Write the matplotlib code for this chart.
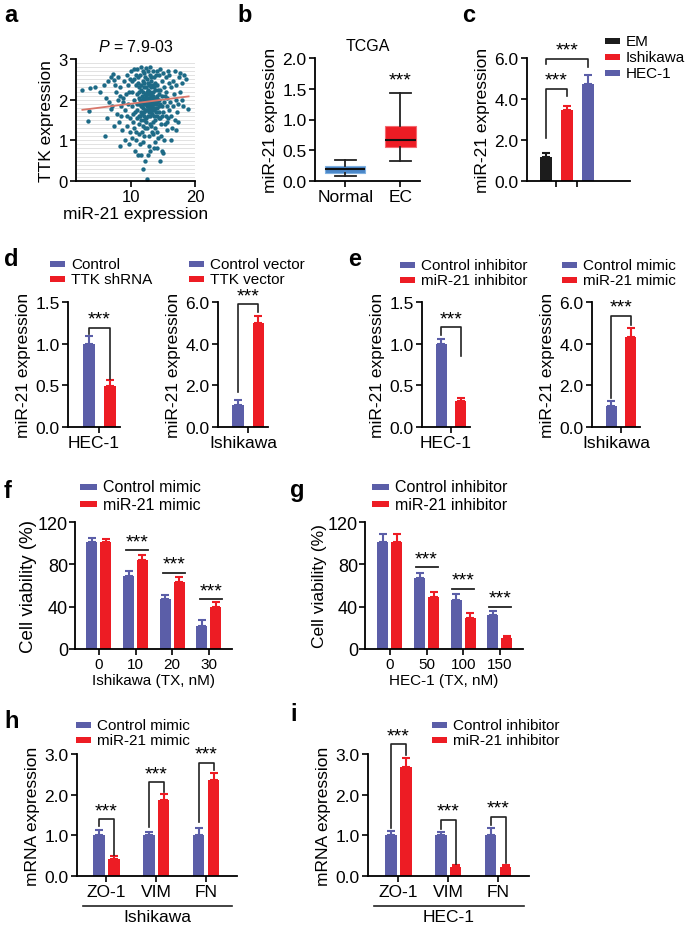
import numpy as np
import matplotlib.pyplot as plt
from matplotlib.patches import Rectangle
from matplotlib.ticker import FormatStrFormatter

plt.rcParams['font.family'] = ['Liberation Sans', 'DejaVu Sans']
plt.rcParams['mathtext.fontset'] = 'custom'
plt.rcParams['mathtext.it'] = 'Liberation Sans:italic'
plt.rcParams['mathtext.rm'] = 'Liberation Sans'

# ---------------- data ----------------
# a: TTK vs miR-21 scatter
a_pts = [
    (2.4, 2.25), (3.6, 2.28), (4.3, 2.3), (5.2, 2.2), (3.4, 1.72), (3.2, 1.47), (5.8, 2.35), (6.1, 2.05),
    (6.4, 2.45), (6.6, 1.95), (6.9, 2.55), (7.2, 2.62), (7.4, 2.48), (6.8, 1.78), (6.3, 1.55), (6.0, 1.1),
    (7.1, 1.85), (7.6, 2.2), (7.8, 1.65), (7.3, 1.35), (7.9, 2.0), (7.5, 2.35),
    (8.0, 2.55), (8.2, 2.3), (8.4, 1.85), (8.1, 1.45), (8.3, 0.85), (8.6, 1.25), (8.7, 2.05), (8.9, 2.45),
    (8.5, 1.6), (9.0, 1.0), (9.1, 1.75), (9.2, 2.15), (9.3, 2.6), (9.4, 1.35), (9.6, 1.9), (9.5, 2.35),
    (9.7, 0.9), (9.8, 1.55), (9.9, 2.5), (9.9, 1.2), (8.8, 1.95), (9.3, 1.6), (9.7, 2.2), (8.3, 2.1),
    (10.0, 2.7), (10.1, 2.2), (10.2, 1.85), (10.3, 1.45), (10.1, 1.05), (10.4, 2.5), (10.5, 2.0), (10.6, 1.7),
    (10.4, 1.3), (10.7, 2.35), (10.8, 2.6), (10.9, 1.9), (10.6, 0.75), (10.8, 1.2), (10.9, 1.55), (10.2, 2.45),
    (10.5, 2.75), (10.7, 1.0), (10.3, 1.65), (10.9, 2.15),
    (11.0, 2.75), (11.1, 2.4), (11.2, 2.05), (11.0, 1.75), (11.3, 1.4), (11.1, 0.65), (11.4, 2.6), (11.5, 2.25),
    (11.6, 1.95), (11.4, 1.6), (11.7, 1.2), (11.5, 0.65), (11.8, 0.3), (11.8, 2.7), (11.9, 2.45), (11.7, 2.1),
    (11.9, 1.8), (11.6, 1.5), (11.8, 0.95), (11.2, 1.15), (11.3, 2.2), (11.5, 1.85), (11.9, 1.35), (11.1, 2.55),
    (11.6, 2.8), (11.4, 0.9), (11.7, 1.65), (11.3, 1.9),
    (12.0, 2.65), (12.1, 2.3), (12.2, 2.0), (12.0, 1.7), (12.3, 1.45), (12.1, 1.1), (12.2, 0.5), (12.5, 0.05),
    (12.4, 2.78), (12.5, 2.5), (12.6, 2.15), (12.4, 1.9), (12.7, 1.6), (12.5, 1.3), (12.8, 0.85), (12.6, 0.65),
    (12.9, 2.6), (12.8, 2.35), (12.7, 2.0), (12.9, 1.8), (12.3, 1.75), (12.6, 1.95), (12.2, 2.55), (12.8, 1.1),
    (12.4, 1.55), (12.9, 1.4), (12.1, 1.9), (12.7, 2.7), (12.3, 2.1), (12.6, 1.75), (12.0, 2.0), (12.5, 1.85),
    (12.8, 2.05), (12.2, 1.3),
    (13.0, 2.8), (13.1, 2.45), (13.2, 2.1), (13.0, 1.9), (13.3, 1.65), (13.1, 1.35), (13.0, 0.75), (13.4, 2.7),
    (13.5, 2.35), (13.6, 2.0), (13.4, 1.8), (13.7, 1.5), (13.5, 1.15), (13.8, 0.95), (13.6, 0.8), (13.9, 2.6),
    (13.8, 2.25), (13.7, 1.95), (13.9, 1.7), (13.3, 1.95), (13.2, 2.55), (13.6, 1.75), (13.1, 2.0), (13.4, 1.45),
    (13.8, 1.3), (13.5, 2.1), (13.2, 1.85), (13.9, 2.05), (13.0, 2.2), (13.6, 2.55), (13.3, 1.2), (13.7, 2.4),
    (14.0, 2.7), (14.1, 2.35), (14.2, 2.0), (14.0, 1.8), (14.3, 1.55), (14.1, 1.2), (14.0, 0.8), (14.4, 2.6),
    (14.5, 2.25), (14.6, 1.9), (14.4, 1.7), (14.7, 1.4), (14.5, 0.5), (14.8, 0.75), (14.6, 2.75), (14.9, 2.45),
    (14.8, 2.1), (14.9, 1.6), (14.2, 1.05), (14.7, 1.1), (14.3, 2.15), (14.6, 1.55), (14.1, 1.95), (14.8, 1.85),
    (15.0, 2.65), (15.1, 2.3), (15.2, 1.95), (15.0, 1.7), (15.3, 1.4), (15.1, 1.0), (15.0, 0.7), (15.4, 2.55),
    (15.5, 2.2), (15.6, 1.85), (15.4, 1.6), (15.7, 1.25), (15.8, 2.7), (15.9, 2.4), (15.7, 2.05), (15.9, 1.75),
    (15.6, 1.45), (15.3, 2.1), (15.8, 1.55),
    (16.0, 2.6), (16.2, 2.3), (16.1, 1.95), (16.3, 1.6), (16.4, 1.3), (16.5, 2.45), (16.7, 2.15), (16.6, 1.85),
    (16.8, 1.5), (16.9, 2.7), (17.1, 2.35), (17.0, 2.0), (17.2, 1.7), (17.3, 1.45), (17.5, 2.55), (17.6, 2.2),
    (17.4, 1.9), (17.7, 2.65), (17.9, 2.4), (18.0, 2.0), (18.3, 2.6), (18.6, 2.5), (18.9, 1.78), (18.2, 1.85),
    (16.2, 1.0), (17.0, 1.25),
    (11.2, 2.3), (11.4, 2.0), (11.6, 2.35), (11.8, 2.2), (12.0, 2.4), (12.2, 2.15), (12.4, 2.3), (12.6, 2.4),
    (12.8, 2.2), (13.0, 2.35), (13.2, 2.3), (13.4, 2.2), (13.6, 2.3), (13.8, 2.0), (14.0, 2.1), (14.2, 2.25),
    (14.4, 2.0), (12.1, 1.6), (12.3, 1.9), (12.5, 2.0), (12.7, 1.85), (12.9, 1.95), (13.1, 1.75), (13.3, 1.85),
    (13.5, 1.9), (13.7, 1.8), (13.9, 1.9), (12.4, 2.05), (12.6, 1.85), (12.8, 1.7), (13.0, 1.6), (13.2, 1.7),
    (13.4, 2.05), (11.5, 1.7), (11.7, 1.85), (11.9, 2.05), (12.0, 1.5), (12.2, 1.75), (13.6, 1.6), (14.1, 1.6),
    (14.3, 1.85), (11.3, 1.6), (12.9, 2.15), (13.1, 2.15), (12.7, 2.25), (12.5, 2.2),
]
a_x = [p[0] for p in a_pts]
a_y = [p[1] for p in a_pts]
a_fit_x = [2.4, 19.0]
a_fit_y = [1.75, 2.08]

# b: TCGA box plot
b_groups = ['Normal', 'EC']
b_whislo = [0.08, 0.33]
b_q1 = [0.13, 0.55]
b_med = [0.19, 0.67]
b_q3 = [0.25, 0.90]
b_whishi = [0.34, 1.43]

# c: cell lines
c_groups = ['EM', 'Ishikawa', 'HEC-1']
c_vals = [1.18, 3.45, 4.75]
c_errs = [0.2, 0.22, 0.42]

# d
d1_labels = ['Control', 'TTK shRNA']
d1_vals = [1.0, 0.49]
d1_errs = [0.09, 0.07]
d2_labels = ['Control vector', 'TTK vector']
d2_vals = [1.05, 5.0]
d2_errs = [0.25, 0.35]

# e
e1_labels = ['Control inhibitor', 'miR-21 inhibitor']
e1_vals = [1.0, 0.31]
e1_errs = [0.06, 0.04]
e2_labels = ['Control mimic', 'miR-21 mimic']
e2_vals = [1.02, 4.32]
e2_errs = [0.22, 0.45]

# f
f_doses = ['0', '10', '20', '30']
f_ctrl = [101, 69, 47, 22]
f_ctrl_err = [4, 4.5, 4, 5]
f_mimic = [101, 84, 63, 40]
f_mimic_err = [3, 4.5, 5, 4.5]

# g
g_doses = ['0', '50', '100', '150']
g_ctrl = [101, 67, 46, 32]
g_ctrl_err = [8, 5, 6, 4]
g_inhib = [101, 49, 29, 10]
g_inhib_err = [8, 5, 5, 2.5]

# h
h_genes = ['ZO-1', 'VIM', 'FN']
h_ctrl = [1.0, 1.0, 1.0]
h_ctrl_err = [0.12, 0.07, 0.17]
h_mimic = [0.42, 1.87, 2.36]
h_mimic_err = [0.06, 0.14, 0.17]

# i
i_genes = ['ZO-1', 'VIM', 'FN']
i_ctrl = [1.0, 1.0, 1.0]
i_ctrl_err = [0.1, 0.07, 0.18]
i_inhib = [2.69, 0.22, 0.22]
i_inhib_err = [0.22, 0.05, 0.06]

# ---------------- style ----------------
W, H = 685, 928
BLUE = '#5b5ea8'
RED = '#ed1c24'
BLACK = '#1c1c1c'
BOXBLUE = '#4a87c9'
TEAL = '#1d6a86'
STAR_FS = 14

fig = plt.figure(figsize=(W / 100, H / 100), dpi=100)


def add_ax(x0, x1, y0, y1):
    # pixel box (x0..x1, top y0 .. bottom y1) -> axes
    ax = fig.add_axes([x0 / W, 1 - y1 / H, (x1 - x0) / W, (y1 - y0) / H])
    for s in ['top', 'right']:
        ax.spines[s].set_visible(False)
    for s in ['left', 'bottom']:
        ax.spines[s].set_linewidth(1.3)
    ax.tick_params(direction='out', length=4, width=1.2, labelsize=12.5, pad=2)
    return ax


def letter(x, y, s):
    fig.text(x / W, 1 - y / H, s, fontsize=17, fontweight='bold', va='center', ha='left')


def px_legend(x, y, labels, colors, fs=11, dy=15, pw=15, ph=6, gap=6):
    for i, (lab, c) in enumerate(zip(labels, colors)):
        yy = y + i * dy
        fig.add_artist(Rectangle((x / W, 1 - (yy + ph / 2) / H), pw / W, ph / H,
                                 transform=fig.transFigure, color=c, lw=0))
        fig.text((x + pw + gap) / W, 1 - yy / H, lab, fontsize=fs, va='center', ha='left')


def err_bars(ax, xs, vals, errs, colors):
    for x, v, e, c in zip(xs, vals, errs, colors):
        ax.errorbar(x, v, yerr=[[0], [e]], color=c, capsize=3, elinewidth=1.5,
                    capthick=1.5, fmt='none', zorder=1)


def bracket(ax, x1, x2, y, b1, b2, fs=STAR_FS):
    ax.plot([x1, x1, x2, x2], [b1, y, y, b2], color='#222222', lw=1.2, clip_on=False)
    ax.text((x1 + x2) / 2, y, '***', ha='center', va='bottom', fontsize=fs, clip_on=False)


def sig_line(ax, xc, y, half=0.3, fs=STAR_FS):
    ax.plot([xc - half, xc + half], [y, y], color='#222222', lw=1.3, clip_on=False)
    ax.text(xc, y, '***', ha='center', va='bottom', fontsize=fs, clip_on=False)


# ---------------- a ----------------
ax = add_ax(76, 195, 60, 182)
ax.hlines(np.arange(0.1, 3.0, 0.1), 1.4, 20, color='#e2e2e2', lw=0.7, zorder=0)
ax.scatter(a_x, a_y, s=10, color=TEAL, lw=0, zorder=2)
ax.plot(a_fit_x, a_fit_y, color='#d9776b', lw=1.3, zorder=3)
ax.set_xlim(1.4, 20)
ax.set_ylim(0, 3)
ax.set_xticks([10, 20])
ax.set_yticks([0, 1, 2, 3])
ax.tick_params(labelsize=12)
ax.set_xlabel('miR-21 expression', fontsize=12.5, labelpad=1)
ax.set_ylabel('TTK expression', fontsize=12.5, labelpad=3)
ax.set_title('$P$ = 7.9-03', fontsize=11.5, pad=6)
letter(4, 15, 'a')

# ---------------- b ----------------
ax = add_ax(315, 420, 59, 182)
stats = [dict(whislo=b_whislo[i], q1=b_q1[i], med=b_med[i], q3=b_q3[i], whishi=b_whishi[i],
              label=b_groups[i]) for i in range(2)]
bp = ax.bxp(stats, positions=[0, 1], widths=[0.72, 0.56], showfliers=False, patch_artist=True,
            boxprops=dict(lw=0.8), whiskerprops=dict(color='#222222', lw=1.3),
            capprops=dict(color='#222222', lw=1.3), medianprops=dict(color='#111111', lw=1.5))
for patch, fc, ec in zip(bp['boxes'], [BOXBLUE, RED], ['#7fb0e0', '#f46a70']):
    patch.set_facecolor(fc)
    patch.set_edgecolor(ec)
for cap in bp['caps']:
    xd = cap.get_xdata()
    m = xd.mean()
    cap.set_xdata([m - 0.19, m + 0.19])
ax.set_xlim(-0.55, 1.36)
ax.set_ylim(0, 2)
ax.set_yticks([0, 0.5, 1.0, 1.5, 2.0])
ax.yaxis.set_major_formatter(FormatStrFormatter('%.1f'))
ax.set_xticks([0, 1])
ax.set_xticklabels(b_groups, fontsize=12.5)
ax.set_ylabel('miR-21 expression', fontsize=12.5, labelpad=3)
ax.set_title('TCGA', fontsize=11.5, pad=6)
ax.text(1, 1.5, '***', ha='center', va='bottom', fontsize=STAR_FS)
letter(237, 15, 'b')

# ---------------- c ----------------
ax = add_ax(527, 630, 59, 182)
xs = np.arange(3)
ccols = [BLACK, RED, BLUE]
ax.bar(xs, c_vals, 0.57, color=ccols, zorder=2)
err_bars(ax, xs, c_vals, c_errs, ccols)
ax.set_xlim(-0.9, 4.0)
ax.set_ylim(0, 6)
ax.set_yticks([0, 2, 4, 6])
ax.yaxis.set_major_formatter(FormatStrFormatter('%.1f'))
ax.set_xticks([0.5, 1.5])
ax.set_xticklabels([])
ax.set_ylabel('miR-21 expression', fontsize=12.5, labelpad=3)
bracket(ax, 0, 1, 4.49, 2.12, 4.17)
bracket(ax, 0, 2, 5.96, 5.72, 5.56)
px_legend(605, 42, c_groups, ccols, fs=11, dy=16)
letter(462, 15, 'c')


def two_bar_panel(x0, x1, labels, vals, errs, ymax, yticks, fmt, xlabel, br):
    ax = add_ax(x0, x1, 303, 428)
    xs = np.arange(2)
    cols = [BLUE, RED]
    ax.bar(xs, vals, 0.57, color=cols, zorder=2)
    err_bars(ax, xs, vals, errs, cols)
    ax.set_xlim(-1.0, 1.48)
    ax.set_ylim(0, ymax)
    ax.set_yticks(yticks)
    ax.yaxis.set_major_formatter(FormatStrFormatter(fmt))
    ax.set_xticks([0.5])
    ax.set_xticklabels([])
    ax.set_xlabel(xlabel, fontsize=12.5, labelpad=0)
    ax.set_ylabel('miR-21 expression', fontsize=12.5, labelpad=3)
    bracket(ax, 0, 1, *br)
    return ax


# ---------------- d ----------------
two_bar_panel(68, 120, d1_labels, d1_vals, d1_errs, 1.5, [0, 0.5, 1.0, 1.5], '%.1f', 'HEC-1',
              (1.19, 1.12, 0.58))
px_legend(50, 265, d1_labels, [BLUE, RED], fs=11)
two_bar_panel(218, 268, d2_labels, d2_vals, d2_errs, 6, [0, 2, 4, 6], '%.1f', 'Ishikawa',
              (5.9, 1.7, 5.5))
px_legend(189, 265, d2_labels, [BLUE, RED], fs=11)
letter(4, 260, 'd')

# ---------------- e ----------------
two_bar_panel(422, 470, e1_labels, e1_vals, e1_errs, 1.5, [0, 0.5, 1.0, 1.5], '%.1f', 'HEC-1',
              (1.2, 1.1, 0.85))
px_legend(400, 266, e1_labels, [BLUE, RED], fs=11)
two_bar_panel(592, 640, e2_labels, e2_vals, e2_errs, 6, [0, 2, 4, 6], '%.1f', 'Ishikawa',
              (5.35, 1.4, 4.9))
px_legend(562, 266, e2_labels, [BLUE, RED], fs=11)
letter(348, 260, 'e')


def group_panel(x0, x1, y0, y1, cats, v1, e1, v2, e2, xlim, off, width):
    ax = add_ax(x0, x1, y0, y1)
    xs = np.arange(len(cats))
    ax.bar(xs - off, v1, width, color=BLUE, zorder=2)
    ax.bar(xs + off, v2, width, color=RED, zorder=2)
    err_bars(ax, xs - off, v1, e1, [BLUE] * len(cats))
    err_bars(ax, xs + off, v2, e2, [RED] * len(cats))
    ax.set_xlim(*xlim)
    ax.set_xticks(xs)
    ax.set_xticklabels(cats)
    return ax


# ---------------- f ----------------
ax = group_panel(75, 232, 523, 650, f_doses, f_ctrl, f_ctrl_err, f_mimic, f_mimic_err,
                 (-0.65, 3.63), 0.19, 0.3)
ax.set_ylim(0, 120)
ax.set_yticks([0, 40, 80, 120])
ax.tick_params(axis='y', labelsize=13, pad=1)
ax.tick_params(axis='x', labelsize=11)
ax.set_xlabel('Ishikawa (TX, nM)', fontsize=11, labelpad=1)
ax.set_ylabel('Cell viability (%)', fontsize=13.5, labelpad=1)
for k, y in zip([1, 2, 3], [93.5, 72, 47]):
    sig_line(ax, k + 0.05, y, half=0.3)
px_legend(80, 488, e2_labels, [BLUE, RED], fs=11.5, dy=17, pw=17)
letter(4, 492, 'f')

# ---------------- g ----------------
ax = group_panel(365, 523, 523, 650, g_doses, g_ctrl, g_ctrl_err, g_inhib, g_inhib_err,
                 (-0.68, 3.63), 0.19, 0.3)
ax.set_ylim(0, 120)
ax.set_yticks([0, 40, 80, 120])
ax.tick_params(axis='y', labelsize=13, pad=1)
ax.tick_params(axis='x', labelsize=11)
ax.set_xlabel('HEC-1 (TX, nM)', fontsize=11, labelpad=1)
ax.set_ylabel('Cell viability (%)', fontsize=12.5, labelpad=1)
for k, y in zip([1, 2, 3], [77.5, 57, 40]):
    sig_line(ax, k, y, half=0.3)
px_legend(372, 488, e1_labels, [BLUE, RED], fs=11.5, dy=17, pw=17)
letter(290, 490, 'g')

# ---------------- h ----------------
ax = group_panel(77, 237, 755, 877, h_genes, h_ctrl, h_ctrl_err, h_mimic, h_mimic_err,
                 (-0.59, 2.62), 0.15, 0.23)
ax.set_ylim(0, 3)
ax.set_yticks([0, 1, 2, 3])
ax.yaxis.set_major_formatter(FormatStrFormatter('%.1f'))
ax.tick_params(axis='x', labelsize=12.5, pad=2)
ax.set_ylabel('mRNA expression', fontsize=12.5, labelpad=3)
bracket(ax, -0.15, 0.15, 1.4, 1.22, 0.52)
bracket(ax, 0.85, 1.15, 2.3, 1.2, 2.06)
bracket(ax, 1.85, 2.15, 2.78, 1.32, 2.6)
ax.plot([0.04, 0.97], [-0.246, -0.246], transform=ax.transAxes, color='#222222', lw=1.2,
        clip_on=False)
ax.text(0.5, -0.33, 'Ishikawa', transform=ax.transAxes, ha='center', va='center', fontsize=12.5)
px_legend(76, 726, e2_labels, [BLUE, RED], fs=11, dy=15)
letter(4, 722, 'h')

# ---------------- i ----------------
ax = group_panel(368, 529, 755, 877, i_genes, i_ctrl, i_ctrl_err, i_inhib, i_inhib_err,
                 (-0.61, 2.62), 0.15, 0.23)
ax.set_ylim(0, 3)
ax.set_yticks([0, 1, 2, 3])
ax.yaxis.set_major_formatter(FormatStrFormatter('%.1f'))
ax.tick_params(axis='x', labelsize=12.5, pad=2)
ax.set_ylabel('mRNA expression', fontsize=12.5, labelpad=3)
bracket(ax, -0.15, 0.15, 3.24, 1.18, 2.98)
bracket(ax, 0.85, 1.15, 1.38, 1.16, 0.3)
bracket(ax, 1.85, 2.15, 1.46, 1.25, 0.32)
ax.plot([0.04, 0.97], [-0.246, -0.246], transform=ax.transAxes, color='#222222', lw=1.2,
        clip_on=False)
ax.text(0.5, -0.33, 'HEC-1', transform=ax.transAxes, ha='center', va='center', fontsize=12.5)
px_legend(432, 726, e1_labels, [BLUE, RED], fs=11, dy=15)
letter(290, 715, 'i')

fig.savefig('out.png', dpi=100)
